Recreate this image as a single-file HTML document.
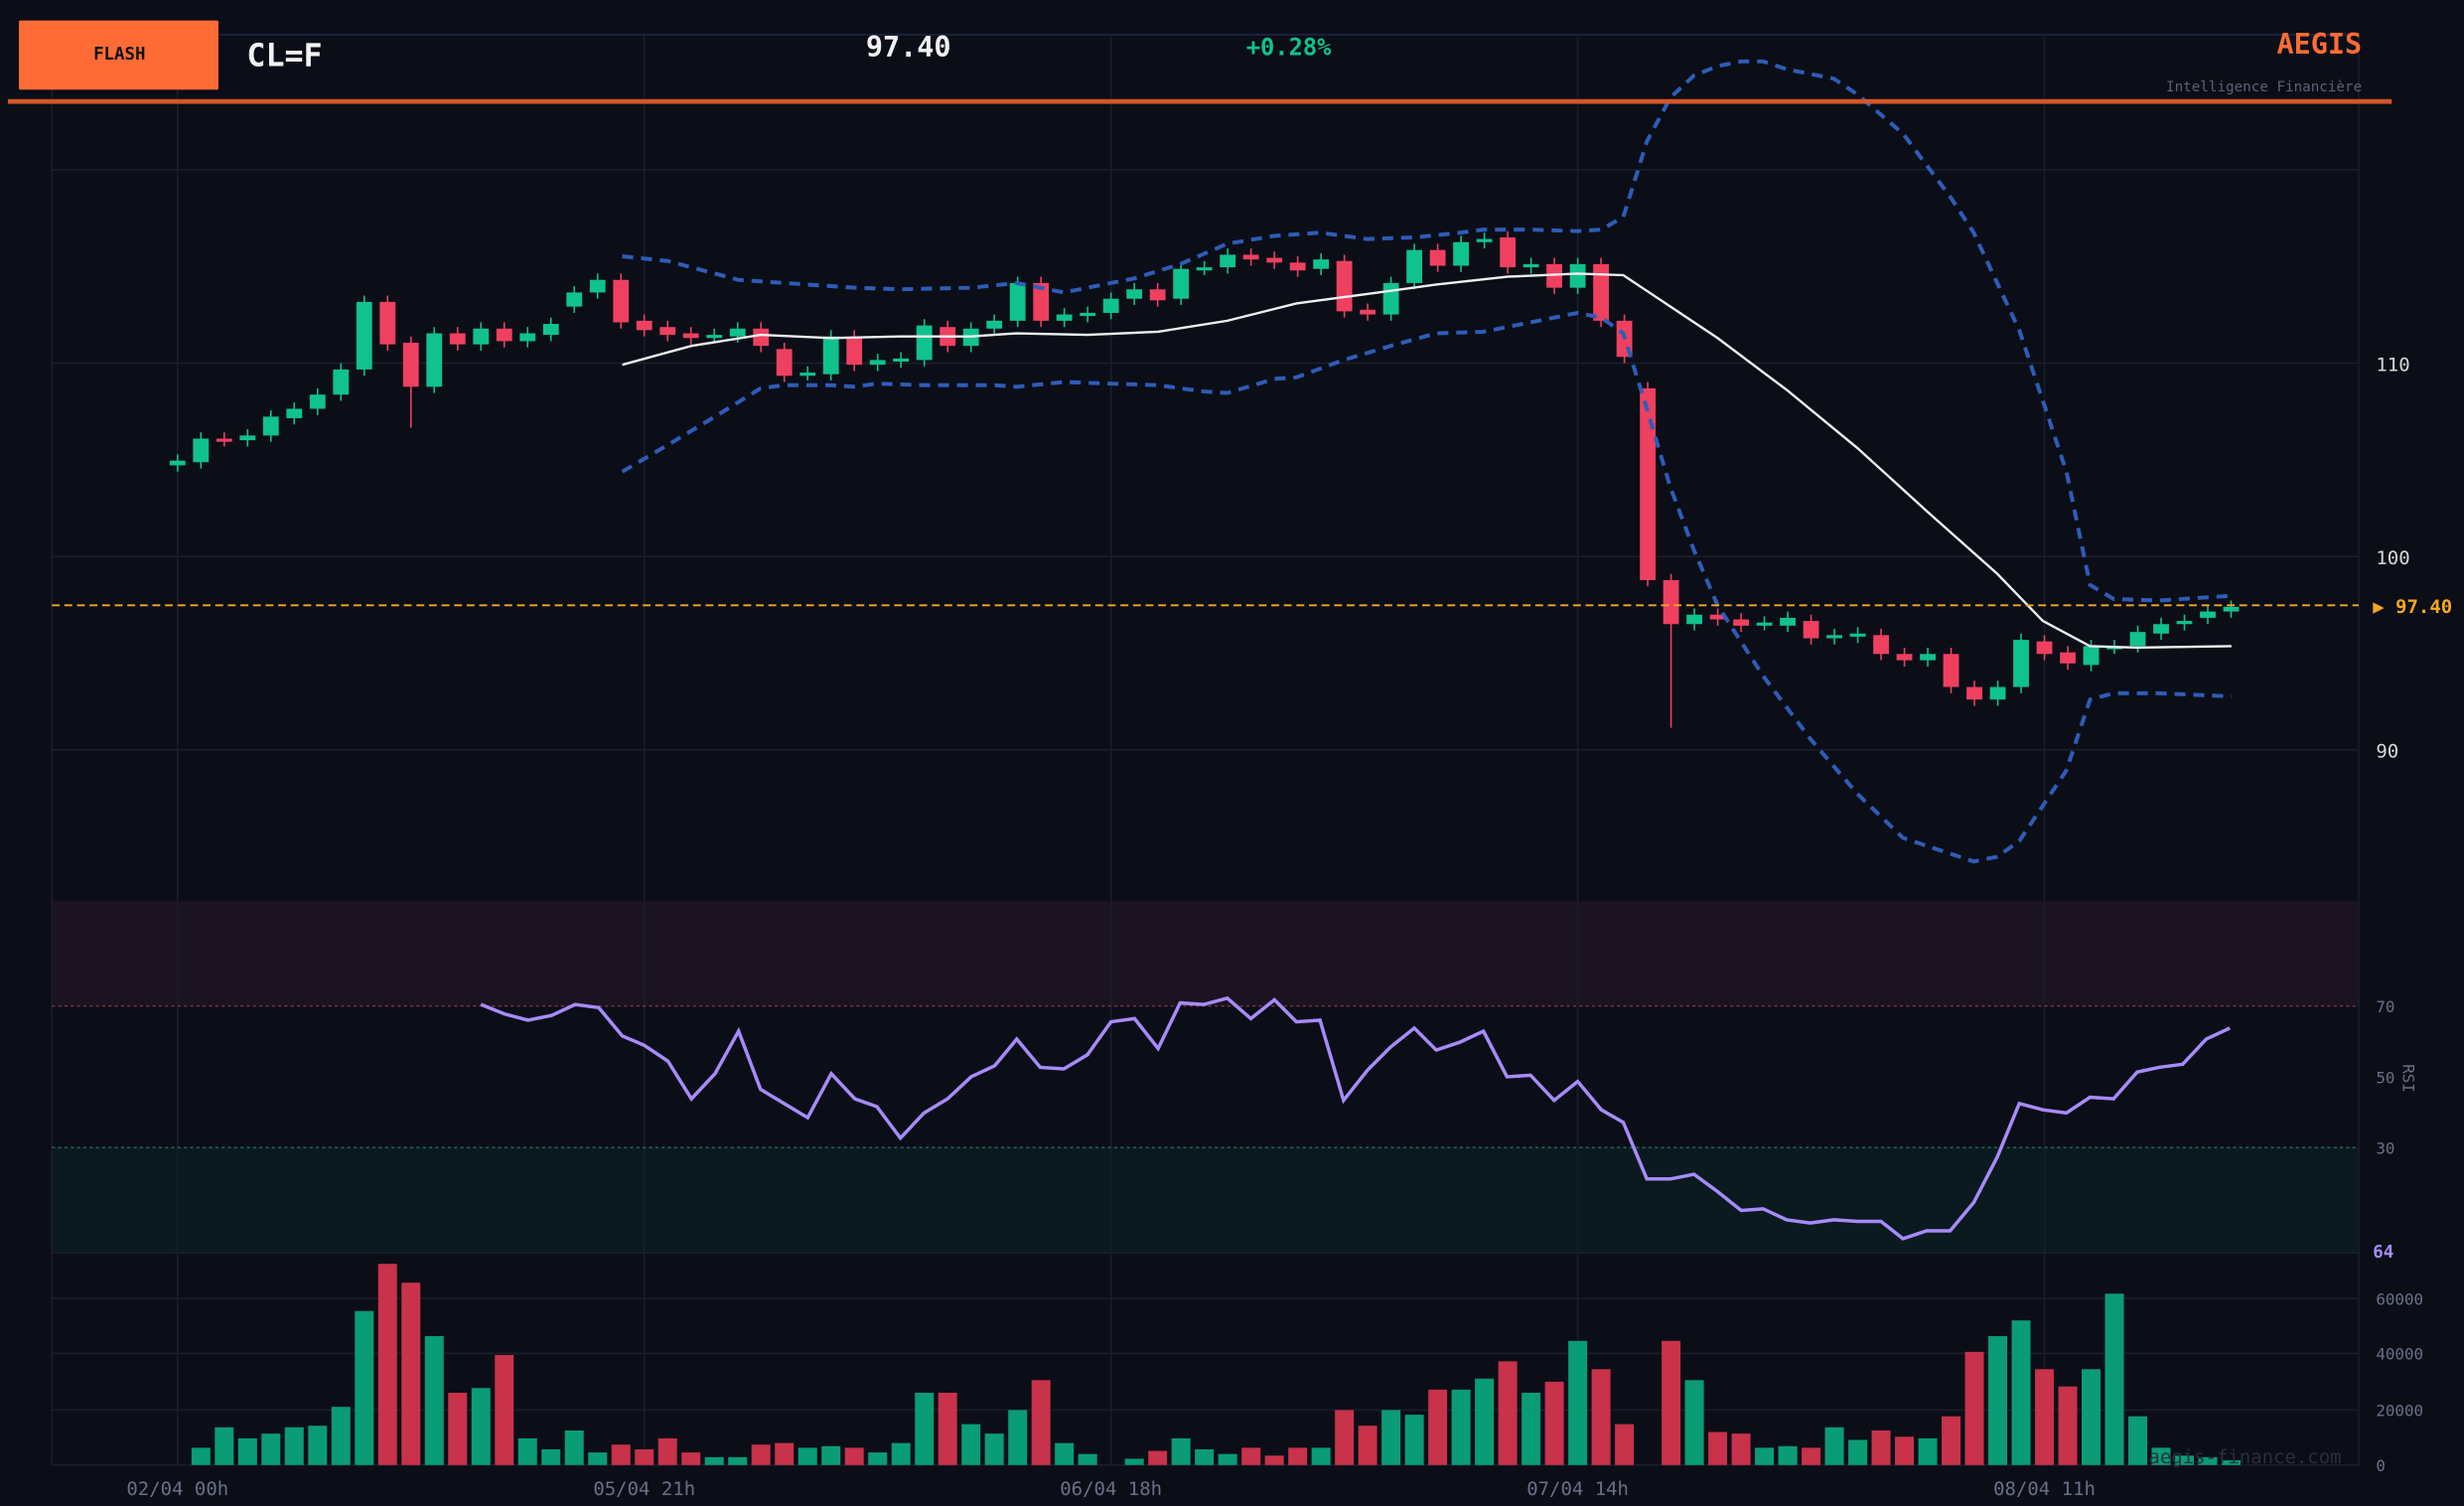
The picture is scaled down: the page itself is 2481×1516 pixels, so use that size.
<!DOCTYPE html>
<html><head><meta charset="utf-8"><style>
html,body{margin:0;padding:0;background:#0b0e17;overflow:hidden}
svg{display:block}
text{font-family:"DejaVu Sans Mono","Liberation Mono",monospace}
</style></head><body>
<svg id="s" width="2481" height="1516" viewBox="0 0 1568 958" xmlns="http://www.w3.org/2000/svg">
<rect width="1568" height="958" fill="#0b0e17"/>
<!-- RSI zones -->
<rect x="33" y="573" width="1468" height="67" fill="#1b1320"/>
<rect x="33" y="730" width="1468" height="67" fill="#0b1a1f"/>
<g stroke="#1a1e2c" stroke-width="1">
<line x1="12" y1="22" x2="1501" y2="22" stroke="#1c2744"/>
<line x1="33" y1="22" x2="33" y2="932"/>
<line x1="113" y1="22" x2="113" y2="932"/>
<line x1="410" y1="22" x2="410" y2="932"/>
<line x1="707" y1="22" x2="707" y2="932"/>
<line x1="1004" y1="22" x2="1004" y2="932"/>
<line x1="1301" y1="22" x2="1301" y2="932"/>
<line x1="1501" y1="22" x2="1501" y2="932"/>
<line x1="33" y1="108" x2="1501" y2="108"/>
<line x1="33" y1="231" x2="1501" y2="231"/>
<line x1="33" y1="354" x2="1501" y2="354"/>
<line x1="33" y1="477" x2="1501" y2="477"/>
<line x1="33" y1="797" x2="1501" y2="797"/>
<line x1="33" y1="826" x2="1501" y2="826"/>
<line x1="33" y1="861" x2="1501" y2="861"/>
<line x1="33" y1="897" x2="1501" y2="897"/>
<line x1="33" y1="932" x2="1501" y2="932"/>
</g>
<line x1="33" y1="640" x2="1501" y2="640" stroke="#8a3a4a" stroke-width="0.8" stroke-dasharray="2,2"/>
<line x1="33" y1="730" x2="1501" y2="730" stroke="#1f7a66" stroke-width="0.8" stroke-dasharray="2,2"/>
<g id="vol"></g>
<g id="cand"></g>
<polyline fill="none" stroke="#2e5cb8" stroke-width="2.5" stroke-dasharray="7,5" points="396,163 425,166 470,178 514,181 544,183 573,184 618,183 647,180 677,186 692,183 722,177 751,168 781,155 811,150 840,148 870,152 900,151 929,148 944,146 974,146 1004,147 1019,146 1033,138 1048,90 1063,62 1078,48 1093,42 1108,39 1122,39 1137,44 1167,50 1182,60 1211,85 1241,125 1256,148 1285,210 1315,300 1330,372 1345,381 1374,382 1404,380 1420,379"/>
<polyline fill="none" stroke="#2e5cb8" stroke-width="2.5" stroke-dasharray="7,5" points="396,300 425,283 455,265 484,247 499,245 529,245 544,246 558,244 588,245 633,245 647,246 677,243 707,244 737,245 766,249 781,250 811,241 825,240 855,229 885,220 914,212 944,211 974,205 1004,199 1019,202 1033,212 1048,260 1063,310 1078,350 1093,385 1122,430 1152,470 1182,505 1211,533 1241,543 1256,548 1271,545 1285,535 1315,490 1330,445 1345,441 1374,441 1420,443"/>
<polyline fill="none" stroke="#f0f0f0" stroke-width="1.5" points="396,232 440,220 484,213 529,215 573,214 618,214 647,212 692,213 737,211 781,204 825,193 870,187 914,181 959,176 1004,174 1033,175 1063,195 1093,215 1137,248 1182,285 1226,325 1271,365 1300,395 1330,411 1360,412 1420,411"/>
<line x1="33" y1="385" x2="1501" y2="385" stroke="#f5a623" stroke-width="1.2" stroke-dasharray="5,3"/>
<polyline fill="none" stroke="#a78bfa" stroke-width="2.2" points="306,639 321,645 336,649 351,646 366,639 381,641 396,659 410,665 425,675 440,699 455,683 470,656 484,693 499,702 514,711 529,683 544,699 558,704 573,724 588,708 603,699 618,685 633,678 647,661 662,679 677,680 692,671 707,650 722,648 737,667 751,638 766,639 781,635 796,648 811,636 825,650 840,649 855,700 870,681 885,666 900,654 914,668 929,663 944,656 959,685 974,684 989,700 1004,688 1019,706 1033,714 1048,750 1063,750 1078,747 1093,758 1108,770 1122,769 1137,776 1152,778 1167,776 1182,777 1197,777 1211,788 1226,783 1241,783 1256,765 1271,736 1285,702 1300,706 1315,708 1330,698 1345,699 1360,682 1374,679 1389,677 1404,661 1419,654"/>
<!-- header -->
<rect x="12" y="13" width="127" height="44" fill="#ff6b35" rx="1"/>
<text x="76" y="38" font-size="11" font-weight="bold" fill="#111" text-anchor="middle">FLASH</text>
<text x="157" y="42" font-size="20" font-weight="bold" fill="#f2f2f2">CL=F</text>
<text x="551" y="36" font-size="18" font-weight="bold" fill="#f2f2f2">97.40</text>
<text x="793" y="35" font-size="15" font-weight="bold" fill="#10c28c">+0.28%</text>
<text x="1503" y="34" font-size="18" font-weight="bold" fill="#ff6b35" text-anchor="end">AEGIS</text>
<text x="1503" y="58" font-size="9" fill="#5a6278" text-anchor="end">Intelligence Financière</text>
<rect x="5" y="63" width="1517" height="3" fill="#d4572a"/>
<!-- axis labels -->
<g font-size="12" fill="#d8d8d8">
<text x="1512" y="236">110</text>
<text x="1512" y="359">100</text>
<text x="1512" y="482">90</text>
</g>
<text x="1510" y="390" font-size="12" font-weight="bold" fill="#f5a623">▶ 97.40</text>
<g font-size="10" fill="#6a7088">
<text x="1512" y="644">70</text>
<text x="1512" y="689">50</text>
<text x="1512" y="734">30</text>
<text x="1512" y="830">60000</text>
<text x="1512" y="865">40000</text>
<text x="1512" y="901">20000</text>
<text x="1512" y="936">0</text>
<text transform="translate(1529,686) rotate(90)" text-anchor="middle">RSI</text>
</g>
<text x="1510" y="800" font-size="11" font-weight="bold" fill="#a78bfa">64</text>
<g font-size="12" fill="#6a7088" text-anchor="middle">
<text x="113" y="951">02/04 00h</text>
<text x="410" y="951">05/04 21h</text>
<text x="707" y="951">06/04 18h</text>
<text x="1004" y="951">07/04 14h</text>
<text x="1301" y="951">08/04 11h</text>
</g>
<text x="1490" y="931" font-size="12" fill="#2a2f40" text-anchor="end">aegis-finance.com</text>
</svg>
<script>
var C=[[293,296,1],[279,294,1],[279,280,0],[277,280,1],[265,277,1],[260,266,1],[251,260,1],[235,251,1],[192,235,1],[192,219,0],[218,246,0],[212,246,1],[212,219,0],[209,219,1],[209,217,0],[212,217,1],[206,213,1],[186,195,1],[178,186,1],[178,205,0],[204,210,0],[208,213,0],[212,215,0],[213,214,1],[209,214,1],[209,220,0],[222,239,0],[237,238,1],[214,238,1],[214,232,0],[229,232,1],[228,230,1],[207,229,1],[208,220,0],[209,220,1],[204,209,1],[180,204,1],[180,204,0],[200,204,1],[199,201,1],[190,199,1],[184,190,1],[184,191,0],[171,190,1],[170,171,1],[162,170,1],[162,165,0],[164,167,0],[167,172,0],[165,171,1],[166,198,0],[197,200,0],[180,200,1],[159,180,1],[159,169,0],[154,169,1],[152,154,1],[151,170,0],[168,170,1],[168,183,0],[168,183,1],[168,204,0],[204,227,0],[247,369,0],[369,397,0],[391,397,1],[391,394,0],[394,398,0],[396,397,1],[393,398,1],[395,406,0],[404,406,1],[403,405,1],[404,416,0],[416,420,0],[416,420,1],[416,437,0],[437,445,0],[437,445,1],[407,437,1],[408,416,0],[415,422,0],[411,423,1],[411,412,1],[402,411,1],[397,403,1],[395,397,1],[389,393,1],[386,389,1]];
var V=[932,921,908,915,912,908,907,895,834,804,816,850,886,883,862,915,922,910,924,919,922,915,924,927,927,919,918,921,920,921,924,918,886,886,906,912,897,878,918,925,932,928,923,915,922,925,921,926,921,921,897,907,897,900,884,884,877,866,886,879,853,871,906,932,853,878,911,912,921,920,921,908,916,910,914,915,901,860,850,840,871,882,871,823,901,921,926,927,929];
var VC=[1,1,1,1,1,1,1,1,1,0,0,1,0,1,0,1,1,1,1,0,0,0,0,1,1,0,0,1,1,0,1,1,1,0,1,1,1,0,1,1,1,1,0,1,1,1,0,0,0,1,0,0,1,1,0,1,1,0,1,0,1,0,0,0,0,1,0,0,1,1,0,1,1,0,0,1,0,0,1,1,0,0,1,1,1,1,1,1,1];
var ns="http://www.w3.org/2000/svg",cg=document.getElementById("cand"),vg=document.getElementById("vol");
function el(p,t,a){var e=document.createElementNS(ns,t);for(var k in a)e.setAttribute(k,a[k]);p.appendChild(e);}
var wickExtra={10:[10,272],64:[250,463],63:[200,240]};
for(var i=0;i<C.length;i++){var x=113+i*14.85,c=C[i],col=c[2]?"#10c28c":"#ef4060";
var wt=c[0]-4,wb=c[1]+4;if(wickExtra[i]){wb=Math.max(wb,wickExtra[i][1]);}
el(cg,"line",{x1:x,x2:x,y1:wt,y2:wb,stroke:col,"stroke-width":1});
el(cg,"rect",{x:x-5,y:c[0],width:10,height:Math.max(2,c[1]-c[0]),fill:col});
var h=932-V[i];if(h>0)el(vg,"rect",{x:x-6,y:V[i],width:12,height:h,fill:VC[i]?"#0a9c75":"#c8324a"});}
</script>
</body></html>
